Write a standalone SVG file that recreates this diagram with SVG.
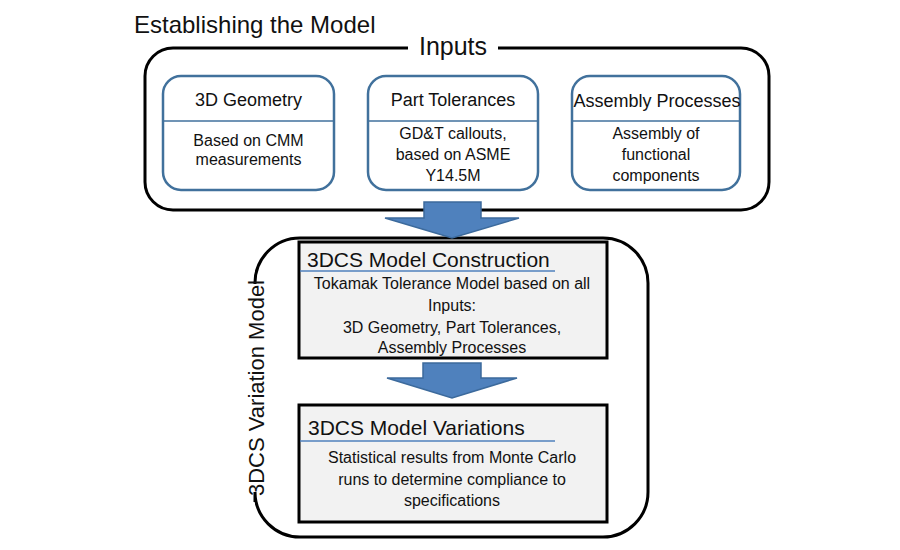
<svg xmlns="http://www.w3.org/2000/svg" width="900" height="550" viewBox="0 0 900 550">
<style>
text{font-family:"Liberation Sans",Arial,sans-serif;fill:#111}
.frame{fill:none;stroke:#000;stroke-width:3}
.inbox{fill:#fff;stroke:#41719C;stroke-width:2.5}
.sep{stroke:#41719C;stroke-width:1.5}
.ttl{font-size:18px;text-anchor:middle}
.body{font-size:16px;text-anchor:middle}
.gbox{fill:#F2F2F2;stroke:#000;stroke-width:3}
.h{font-size:21px}
.ul{stroke:#4F81BD;stroke-width:1.5}
.arrow{fill:#4F81BD;stroke:#3C6A9C;stroke-width:1.5}
</style>
<rect width="900" height="550" fill="#fff"/>
<text x="134" y="33" style="font-size:24px">Establishing the Model</text>

<g id="inputs-frame">
<path class="frame" d="M408,48 H173 A28,28 0 0 0 145,76 V182 A28,28 0 0 0 173,210 H741 A28,28 0 0 0 769,182 V76 A28,28 0 0 0 741,48 H498"/>
<text x="453" y="55" style="font-size:25px;text-anchor:middle">Inputs</text>
</g>

<g id="geometry">
<rect class="inbox" x="163" y="76" width="171" height="114" rx="18"/>
<line class="sep" x1="164" y1="121" x2="333" y2="121"/>
<text class="ttl" x="248.5" y="106">3D Geometry</text>
<text class="body" x="248.5" y="146">Based on CMM</text>
<text class="body" x="248.5" y="165">measurements</text>
</g>

<g id="tolerances">
<rect class="inbox" x="368" y="76" width="170" height="114" rx="18"/>
<line class="sep" x1="369" y1="121" x2="537" y2="121"/>
<text class="ttl" x="453" y="106">Part Tolerances</text>
<text class="body" x="453" y="139">GD&amp;T callouts,</text>
<text class="body" x="453" y="160">based on ASME</text>
<text class="body" x="453" y="181">Y14.5M</text>
</g>

<g id="assembly">
<rect class="inbox" x="572" y="76" width="168" height="114" rx="18"/>
<line class="sep" x1="573" y1="121" x2="739" y2="121"/>
<text class="ttl" x="657" y="107">Assembly Processes</text>
<text class="body" x="656" y="139">Assembly of</text>
<text class="body" x="656" y="160">functional</text>
<text class="body" x="656" y="181">components</text>
</g>

<g id="variation-frame">
<path class="frame" d="M255,284 A45,45 0 0 1 300,238 H603 A45,45 0 0 1 648,283 V492 A45,45 0 0 1 603,537 H300 A45,45 0 0 1 255,492 V502"/>
<text transform="translate(263.5,388) rotate(-90)" style="font-size:22px;text-anchor:middle">3DCS Variation Model</text>
</g>

<g id="connectors">
<path class="arrow" d="M424,202 H481 V218 H519 L452,238 L385,218 H424 Z"/>
<path class="arrow" d="M423,363 H481 V378 H517 L452,398 L387,378 H423 Z"/>
</g>

<g id="construction">
<rect class="gbox" x="299" y="242" width="308" height="116"/>
<line class="ul" x1="300" y1="271" x2="555" y2="271"/>
<text class="h" x="307" y="267">3DCS Model Construction</text>
<text class="body" x="452" y="289">Tokamak Tolerance Model based on all</text>
<text class="body" x="452" y="311">Inputs:</text>
<text class="body" x="452" y="333">3D Geometry, Part Tolerances,</text>
<text class="body" x="452" y="353">Assembly Processes</text>
</g>

<g id="variations">
<rect class="gbox" x="299" y="405" width="308" height="117"/>
<line class="ul" x1="300" y1="441" x2="555" y2="441"/>
<text class="h" x="308" y="435">3DCS Model Variations</text>
<text class="body" x="452" y="463">Statistical results from Monte Carlo</text>
<text class="body" x="452" y="485">runs to determine compliance to</text>
<text class="body" x="452" y="506">specifications</text>
</g>
</svg>
